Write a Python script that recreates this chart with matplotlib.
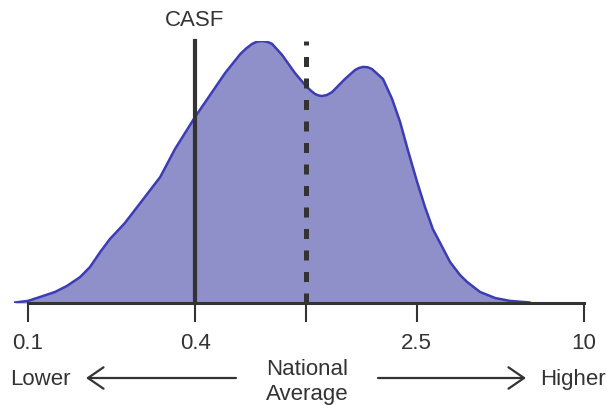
import numpy as np
import matplotlib
matplotlib.use('Agg')
import matplotlib.pyplot as plt

plt.rcParams['font.family'] = ['Liberation Sans', 'DejaVu Sans']

# density curve (x on log scale, height relative to peak)
ratio = [0.0898, 0.1, 0.1105, 0.125, 0.138, 0.154, 0.167, 0.182, 0.197, 0.223,
         0.260, 0.299, 0.338, 0.399, 0.452, 0.512, 0.580, 0.610, 0.640, 0.668,
         0.695, 0.725, 0.755, 0.820, 0.912, 1.0, 1.040, 1.077, 1.110, 1.142,
         1.190, 1.241, 1.381, 1.50, 1.550, 1.604, 1.665, 1.727, 1.892, 2.04,
         2.18, 2.33, 2.51, 2.68, 2.86, 3.09, 3.30, 3.58, 3.80, 4.23,
         4.79, 5.42, 6.39]
density = [0.002, 0.008, 0.023, 0.042, 0.065, 0.099, 0.137, 0.195, 0.244, 0.305,
           0.397, 0.481, 0.588, 0.710, 0.794, 0.878, 0.950, 0.972, 0.989, 0.998,
           1.0, 0.997, 0.989, 0.947, 0.878, 0.828, 0.811, 0.798, 0.792, 0.790,
           0.794, 0.805, 0.855, 0.889, 0.897, 0.901, 0.900, 0.893, 0.855, 0.779,
           0.691, 0.580, 0.462, 0.366, 0.282, 0.214, 0.156, 0.107, 0.080, 0.042,
           0.019, 0.008, 0.002]

tick_vals = [0.1, 0.4, 1, 2.5, 10]
tick_labels = ['0.1', '0.4', '', '2.5', '10']
casf_value = 0.4
national_avg = 1.0

W, H = 607, 406
dark = '#333333'
fig = plt.figure(figsize=(W / 100, H / 100), dpi=100)
ax = fig.add_axes([0, (H - 304) / H, 1, (304 - 42) / H])
ax.set_xscale('log')
ax.set_xlim(10 ** (-1 - 28 / 278), 10 ** (1 + 23 / 278))
ax.set_ylim(0, 1)

ax.fill_between(ratio, density, 0, color='#8f8fca', lw=0)
ax.plot(ratio, density, color='#3c3cb6', lw=1.8, solid_capstyle='round',
        solid_joinstyle='round')

ax.plot([casf_value, casf_value], [0, 1], color=dark, lw=3, clip_on=False)
ax.plot([national_avg, national_avg], [0, 1], color=dark, lw=3.6,
        linestyle=(0, (2, 2.3)), clip_on=False)

for s in ['left', 'right', 'top']:
    ax.spines[s].set_visible(False)
ax.spines['bottom'].set_bounds(0.1, 10)
ax.spines['bottom'].set_color(dark)
ax.spines['bottom'].set_linewidth(2.2)
ax.spines['bottom'].set_zorder(5)
ax.set_yticks([])
ax.set_xticks(tick_vals)
ax.set_xticklabels(tick_labels)
ax.xaxis.set_minor_locator(matplotlib.ticker.NullLocator())
ax.tick_params(axis='x', length=14, width=1.5, color=dark, labelsize=16,
               labelcolor=dark, pad=7)

def fx(px):
    return px / W

def fy(py):
    return 1 - py / H

fig.text(fx(195), fy(21), 'CASF', ha='center', va='center', fontsize=16, color=dark)
fig.text(fx(40), fy(380), 'Lower', ha='center', va='center', fontsize=16, color=dark)
fig.text(fx(573), fy(380), 'Higher', ha='center', va='center', fontsize=16, color=dark)
fig.text(fx(307), fy(382), 'National\nAverage', ha='center', va='center', fontsize=16,
         color=dark, linespacing=1.2)

arrow_kw = dict(arrowstyle='->,head_length=0.8,head_width=0.55', color=dark, lw=1.6,
                mutation_scale=14)
fig.add_artist(matplotlib.patches.FancyArrowPatch((fx(236), fy(379)), (fx(86), fy(379)),
                                                  transform=fig.transFigure,
                                                  shrinkA=0, shrinkB=0, **arrow_kw))
fig.add_artist(matplotlib.patches.FancyArrowPatch((fx(378), fy(379)), (fx(526), fy(379)),
                                                  transform=fig.transFigure,
                                                  shrinkA=0, shrinkB=0, **arrow_kw))

fig.savefig('out.png', dpi=100)
